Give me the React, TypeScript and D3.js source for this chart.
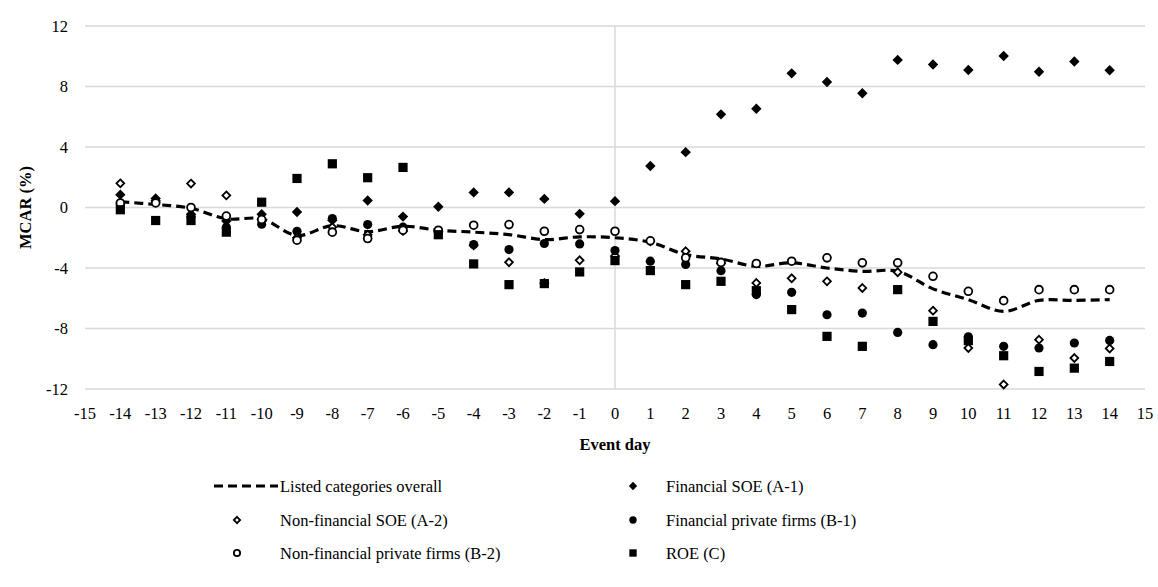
import React from "react";
import * as d3 from "d3";

const days = d3.range(-14, 15);
const xTicks = d3.range(-15, 16);
const yTicks = [-12, -8, -4, 0, 4, 8, 12];

const overall = [0.38, 0.2, -0.05, -0.75, -0.75, -1.85, -1.2, -1.6, -1.24, -1.5, -1.63, -1.79, -2.12, -1.94, -2.0, -2.3, -3.11, -3.4, -3.89, -3.66, -4.0, -4.22, -4.22, -5.38, -6.09, -6.87, -6.14, -6.14, -6.09];
const finSOE = [0.85, 0.6, -0.45, -0.9, -0.45, -0.3, -0.85, 0.46, -0.6, 0.05, 1.0, 1.0, 0.57, -0.42, 0.42, 2.74, 3.66, 6.16, 6.53, 8.87, 8.3, 7.55, 9.76, 9.45, 9.09, 10.02, 8.98, 9.65, 9.07];
const nonFinSOE = [1.6, 0.45, 1.58, 0.8, -0.8, -2.0, -1.3, -1.8, -1.55, -1.6, -2.5, -3.62, -5.0, -3.49, -3.2, -2.23, -2.89, -3.7, -4.99, -4.68, -4.88, -5.32, -4.28, -6.82, -9.29, -11.7, -8.74, -9.95, -9.32];
const finPrivate = [0.2, 0.35, -0.6, -1.3, -1.1, -1.57, -0.73, -1.13, -1.3, -1.68, -2.45, -2.78, -2.38, -2.41, -2.85, -3.55, -3.77, -4.18, -5.76, -5.61, -7.09, -6.98, -8.26, -9.07, -8.55, -9.18, -9.29, -8.96, -8.79];
const nonFinPrivate = [0.3, 0.3, 0.0, -0.57, -0.8, -2.16, -1.63, -2.05, -1.5, -1.5, -1.17, -1.13, -1.57, -1.46, -1.57, -2.2, -3.33, -3.63, -3.7, -3.55, -3.33, -3.66, -3.66, -4.55, -5.54, -6.16, -5.43, -5.43, -5.43];
const roe = [-0.15, -0.86, -0.86, -1.63, 0.35, 1.92, 2.89, 1.97, 2.65, -1.8, -3.73, -5.1, -5.03, -4.26, -3.51, -4.17, -5.1, -4.88, -5.5, -6.75, -8.52, -9.18, -5.43, -7.53, -8.8, -9.8, -10.84, -10.62, -10.18];

const FONT = "'Liberation Serif', 'DejaVu Serif', serif";
const FS = 16.5;

type Sym = "line" | "fdiamond" | "odiamond" | "fcircle" | "ocircle" | "square";

const series: { name: string; values: number[]; sym: Sym }[] = [
  { name: "Listed categories overall", values: overall, sym: "line" },
  { name: "Financial SOE (A-1)", values: finSOE, sym: "fdiamond" },
  { name: "Non-financial SOE (A-2)", values: nonFinSOE, sym: "odiamond" },
  { name: "Financial private firms (B-1)", values: finPrivate, sym: "fcircle" },
  { name: "Non-financial private firms (B-2)", values: nonFinPrivate, sym: "ocircle" },
  { name: "ROE (C)", values: roe, sym: "square" },
];

function Marker({ sym, x, y, scale = 1 }: { sym: Sym; x: number; y: number; scale?: number }) {
  const s = scale;
  switch (sym) {
    case "fdiamond": {
      const r = 5.2 * s;
      return <path d={`M${x},${y - r}L${x + r},${y}L${x},${y + r}L${x - r},${y}Z`} fill="#000" />;
    }
    case "odiamond": {
      const r = 3.9 * s;
      return <path d={`M${x},${y - r}L${x + r},${y}L${x},${y + r}L${x - r},${y}Z`} fill="#fff" stroke="#000" strokeWidth={1.8} />;
    }
    case "fcircle":
      return <circle cx={x} cy={y} r={4.6 * s} fill="#000" />;
    case "ocircle":
      return <circle cx={x} cy={y} r={3.9 * s} fill="#fff" stroke="#000" strokeWidth={1.8} />;
    case "square": {
      const h = 4.6 * s;
      return <rect x={x - h} y={y - h} width={2 * h} height={2 * h} fill="#000" />;
    }
    default:
      return null;
  }
}

export default function App() {
  const W = 1158, H = 587;
  const x = d3.scaleLinear().domain([-15, 15]).range([85, 1145]);
  const y = d3.scaleLinear().domain([-12, 12]).range([389, 26]);
  const grid = "#d9d9d9";

  const line = d3
    .line<number>()
    .x((_, i) => x(days[i]))
    .y((v) => y(v))
    .curve(d3.curveCatmullRom.alpha(0.5));

  const legendRows = [486, 520, 553];
  const legendCols = [{ sx: 237, tx: 280 }, { sx: 633, tx: 666 }];

  return (
    <svg width={W} height={H} style={{ position: "absolute", left: 0, top: 0, background: "#fff" }} fontFamily={FONT}>
      <rect x={0} y={0} width={W} height={H} fill="#fff" />
      {yTicks.map((t) => (
        <line key={t} x1={x(-15)} x2={x(15)} y1={y(t)} y2={y(t)} stroke={grid} strokeWidth={1.5} />
      ))}
      <line x1={x(0)} x2={x(0)} y1={y(12)} y2={y(-12)} stroke={grid} strokeWidth={1.5} />
      {yTicks.map((t) => (
        <text key={t} x={68} y={y(t)} dy="0.35em" textAnchor="end" fontSize={FS} fill="#000">
          {t}
        </text>
      ))}
      {xTicks.map((t) => (
        <text key={t} x={x(t)} y={y(-12) + 24} dy="0.35em" textAnchor="middle" fontSize={FS} fill="#000">
          {t}
        </text>
      ))}
      <text x={x(0)} y={444} dy="0.35em" textAnchor="middle" fontSize={FS} fontWeight="bold">
        Event day
      </text>
      <text transform={`translate(25,${y(0)}) rotate(-90)`} dy="0.35em" textAnchor="middle" fontSize={FS} fontWeight="bold">
        MCAR (%)
      </text>

      <path d={line(overall) || ""} fill="none" stroke="#000" strokeWidth={3.2} strokeDasharray="9,5" />
      {series.filter((s) => s.sym !== "line").map((s) => (
        <g key={s.name}>
          {s.values.map((v, i) => (
            <Marker key={i} sym={s.sym} x={x(days[i])} y={y(v)} />
          ))}
        </g>
      ))}

      {series.map((s, i) => {
        const row = legendRows[Math.floor(i / 2)];
        const col = legendCols[i % 2];
        return (
          <g key={s.name}>
            {s.sym === "line" ? (
              <line x1={214} x2={278} y1={row} y2={row} stroke="#000" strokeWidth={3.2} strokeDasharray="9,5" />
            ) : (
              <Marker sym={s.sym} x={col.sx} y={row} scale={0.8} />
            )}
            <text x={col.tx} y={row} dy="0.35em" fontSize={FS} fill="#000">
              {s.name}
            </text>
          </g>
        );
      })}
    </svg>
  );
}
